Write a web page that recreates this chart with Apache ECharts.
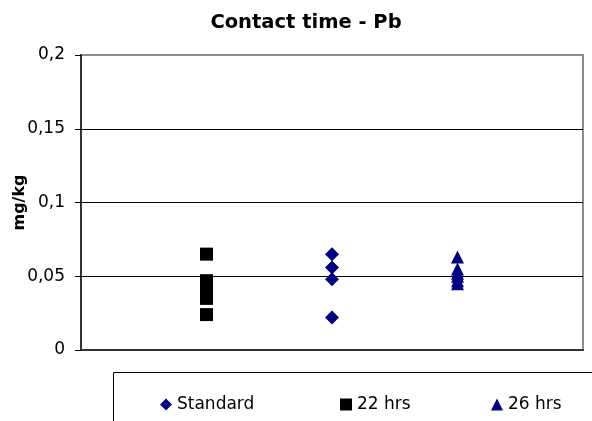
<!DOCTYPE html>
<html>
<head>
<meta charset="utf-8">
<script src="https://cdn.jsdelivr.net/npm/echarts@6/dist/echarts.min.js"></script>
<style>html,body{margin:0;padding:0;background:#fff;}#c{width:592px;height:421px;}</style>
</head>
<body>
<div id="c"></div>
<script>
var titleText = 'Contact time - Pb';
var yAxisName = 'mg/kg';
var seriesNames = ['Standard', '22 hrs', '26 hrs'];
var seriesX = [2, 1, 3];
var standardValues = [0.065, 0.056, 0.048, 0.022];
var hrs22Values = [0.065, 0.047, 0.043, 0.038, 0.035, 0.024];
var hrs26Values = [0.063, 0.055, 0.052, 0.05, 0.047, 0.045];
var yTicks = [0, 0.05, 0.1, 0.15, 0.2];

var FONT = 'DejaVu Sans';
function pts(x, vals) { return vals.map(function (v) { return [x, v]; }); }

var chart = echarts.init(document.getElementById('c'), null, {renderer: 'canvas'});
chart.setOption({
  animation: false,
  backgroundColor: '#fff',
  title: {
    text: titleText, left: 301, top: 8, textAlign: 'center',
    textStyle: {fontFamily: FONT, fontWeight: 'bold', fontSize: 19.5, color: '#000'}
  },
  grid: {left: 81, right: 9, top: 55, bottom: 71, containLabel: false, outerBoundsMode: 'none', show: true, borderColor: '#8c8c8c', borderWidth: 2, backgroundColor: 'transparent'},
  xAxis: {
    type: 'value', min: 0, max: 4,
    axisLine: {show: true, onZero: false, lineStyle: {color: '#333', width: 2}},
    axisTick: {show: false}, axisLabel: {show: false}, splitLine: {show: false}
  },
  yAxis: {
    type: 'value', min: yTicks[0], max: yTicks[yTicks.length - 1], interval: 0.05,
    name: yAxisName, nameLocation: 'middle', nameGap: 53, nameRotate: 90, nameMoveOverlap: false,
    nameTextStyle: {fontFamily: FONT, fontWeight: 'bold', fontSize: 16, color: '#000'},
    axisLine: {show: true, lineStyle: {color: '#333', width: 2}},
    axisTick: {show: true, inside: false, length: 6, lineStyle: {color: '#000'}},
    axisLabel: {
      margin: 16, fontFamily: FONT, fontSize: 17, color: '#000',
      formatter: function (v) { return String(+v.toFixed(2)).replace('.', ','); }
    },
    splitLine: {show: true, lineStyle: {color: ['#000', '#000', '#000', '#000', '#8c8c8c'], width: 1}}
  },
  graphic: [{
    type: 'rect', shape: {x: 113.5, y: 372.5, width: 520, height: 100},
    style: {fill: 'none', stroke: '#000', lineWidth: 1}, z: 0
  }],
  legend: [
    {data: [seriesNames[0]], left: 155, top: 391, itemWidth: 12, itemHeight: 12, textStyle: {fontFamily: FONT, fontSize: 17, color: '#000'}},
    {data: [seriesNames[1]], left: 335, top: 391, itemWidth: 12, itemHeight: 12, textStyle: {fontFamily: FONT, fontSize: 17, color: '#000'}},
    {data: [seriesNames[2]], left: 486, top: 391, itemWidth: 12, itemHeight: 12, textStyle: {fontFamily: FONT, fontSize: 17, color: '#000'}}
  ],
  series: [
    {name: seriesNames[0], type: 'scatter', symbol: 'diamond', symbolSize: [14, 14], itemStyle: {color: '#000080', opacity: 1}, data: pts(seriesX[0], standardValues)},
    {name: seriesNames[1], type: 'scatter', symbol: 'rect', symbolSize: 13, itemStyle: {color: '#000', opacity: 1}, data: pts(seriesX[1], hrs22Values)},
    {name: seriesNames[2], type: 'scatter', symbol: 'triangle', symbolSize: [13, 13], itemStyle: {color: '#000080', opacity: 1}, data: pts(seriesX[2], hrs26Values)}
  ]
});
</script>
</body>
</html>
